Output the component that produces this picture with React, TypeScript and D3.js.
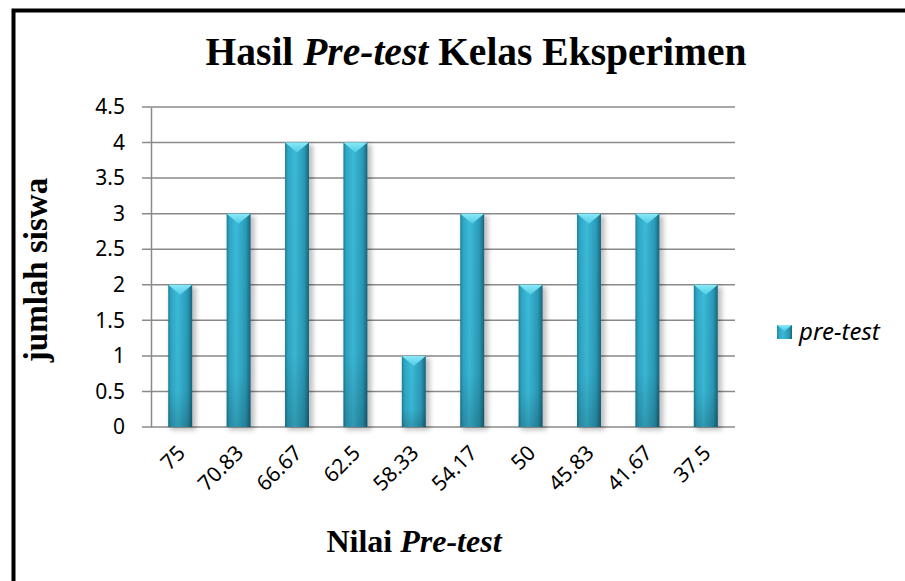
import React, { useEffect, useRef } from "react";
import { select, scaleBand, scaleLinear, axisLeft } from "d3";

const categories = ["75", "70.83", "66.67", "62.5", "58.33", "54.17", "50", "45.83", "41.67", "37.5"];
const preTest = [2, 3, 4, 4, 1, 3, 2, 3, 3, 2];
const yTicks = [0, 0.5, 1, 1.5, 2, 2.5, 3, 3.5, 4, 4.5];
const seriesName = "pre-test";

const svg_width = 905;
const svg_height = 581;
const plot = { left: 151, right: 735, top: 107, bottom: 427 };
const tickFont = "'Noto Sans', 'Open Sans', sans-serif";
const serif = "'Liberation Serif', 'DejaVu Serif', serif";

function App() {
  const ref = useRef<SVGSVGElement>(null);

  useEffect(() => {
    const svg = select(ref.current);
    svg.selectAll("*").remove();

    const defs = svg.append("defs");
    // horizontal shading of the column body
    const body = defs.append("linearGradient").attr("id", "barBody").attr("x1", 0).attr("x2", 1).attr("y1", 0).attr("y2", 0);
    body.append("stop").attr("offset", "0%").attr("stop-color", "#1d7f99");
    body.append("stop").attr("offset", "12%").attr("stop-color", "#2fa6c4");
    body.append("stop").attr("offset", "40%").attr("stop-color", "#3bbad8");
    body.append("stop").attr("offset", "80%").attr("stop-color", "#2a9ab7");
    body.append("stop").attr("offset", "100%").attr("stop-color", "#17657c");
    // darkening towards the base
    const shade = defs.append("linearGradient").attr("id", "barShade").attr("x1", 0).attr("x2", 0).attr("y1", 0).attr("y2", 1);
    shade.append("stop").attr("offset", "0%").attr("stop-color", "#000").attr("stop-opacity", 0);
    shade.append("stop").attr("offset", "75%").attr("stop-color", "#000").attr("stop-opacity", 0.03);
    shade.append("stop").attr("offset", "100%").attr("stop-color", "#000").attr("stop-opacity", 0.18);
    const cap = defs.append("linearGradient").attr("id", "barCap").attr("x1", 0).attr("x2", 0).attr("y1", 0).attr("y2", 1);
    cap.append("stop").attr("offset", "0%").attr("stop-color", "#8ae9f8");
    cap.append("stop").attr("offset", "100%").attr("stop-color", "#4fcbe6");
    const blur = defs.append("filter").attr("id", "shadow").attr("x", "-50%").attr("y", "-10%").attr("width", "200%").attr("height", "130%");
    blur.append("feGaussianBlur").attr("stdDeviation", 2.5);

    // outer frame: only top and left edges are inside the picture
    svg.append("path")
      .attr("d", `M13.5,${svg_height + 5} L13.5,10.5 L${svg_width + 5},10.5`)
      .attr("fill", "none").attr("stroke", "black").attr("stroke-width", 4);

    const xScale = scaleBand<string>()
      .domain(categories)
      .range([plot.left, plot.right])
      .paddingInner(0.59)
      .paddingOuter(0.295);
    const yScale = scaleLinear().domain([0, 4.5]).range([plot.bottom, plot.top]);

    // gridlines
    svg.append("g")
      .selectAll("line")
      .data(yTicks)
      .join("line")
      .attr("x1", plot.left - 9)
      .attr("x2", plot.right)
      .attr("y1", (v) => yScale(v))
      .attr("y2", (v) => yScale(v))
      .attr("stroke", "#8a8a8a")
      .attr("stroke-width", 1.5);

    const yAxis = axisLeft(yScale).tickValues(yTicks).tickSize(0).tickPadding(26).tickFormat((v) => String(v));
    const yg = svg.append("g").attr("transform", `translate(${plot.left},0)`).call(yAxis);
    yg.select(".domain").attr("stroke", "#8a8a8a").attr("stroke-width", 1.5);
    yg.selectAll("text").attr("font-family", tickFont).attr("font-size", 21).attr("fill", "#000");

    // columns
    const bw = xScale.bandwidth();
    const bars = svg.append("g")
      .selectAll("g")
      .data(preTest)
      .join("g")
      .attr("transform", (v, i) => `translate(${xScale(categories[i])},0)`);

    bars.append("rect")
      .attr("x", 2).attr("y", (v) => yScale(v) + 2)
      .attr("width", bw + 2).attr("height", (v) => plot.bottom - yScale(v) + 1)
      .attr("fill", "#000").attr("opacity", 0.25).attr("filter", "url(#shadow)");
    bars.append("rect")
      .attr("y", (v) => yScale(v))
      .attr("width", bw).attr("height", (v) => plot.bottom - yScale(v))
      .attr("fill", "url(#barBody)");
    bars.append("rect")
      .attr("y", (v) => yScale(v))
      .attr("width", bw).attr("height", (v) => plot.bottom - yScale(v))
      .attr("fill", "url(#barShade)");
    bars.append("path")
      .attr("d", (v) => {
        const t = yScale(v);
        return `M0,${t} L${bw},${t} L${bw / 2},${t + 10} Z`;
      })
      .attr("fill", "url(#barCap)");

    // x tick labels
    svg.append("g")
      .selectAll("text")
      .data(categories)
      .join("text")
      .attr("transform", (c) => `translate(${(xScale(c) ?? 0) + bw / 2 + 1},${plot.bottom + 22}) rotate(-45)`)
      .attr("text-anchor", "end")
      .attr("dy", "0.35em")
      .attr("font-family", tickFont)
      .attr("font-size", 21)
      .text((c) => c);

    // title
    const title = svg.append("text")
      .attr("x", 476).attr("y", 65)
      .attr("text-anchor", "middle")
      .attr("font-family", serif).attr("font-weight", "bold").attr("font-size", 39.5);
    title.append("tspan").text("Hasil ");
    title.append("tspan").attr("font-style", "italic").text("Pre-test");
    title.append("tspan").text(" Kelas Eksperimen");

    // axis titles
    svg.append("text")
      .attr("transform", `translate(47,270) rotate(-90)`)
      .attr("text-anchor", "middle")
      .attr("font-family", serif).attr("font-weight", "bold").attr("font-size", 33)
      .text("jumlah siswa");

    const xt = svg.append("text")
      .attr("x", 414).attr("y", 552)
      .attr("text-anchor", "middle")
      .attr("font-family", serif).attr("font-weight", "bold").attr("font-size", 32);
    xt.append("tspan").text("Nilai ");
    xt.append("tspan").attr("font-style", "italic").text("Pre-test");

    // legend
    const lg = svg.append("g").attr("transform", "translate(777,325)");
    lg.append("rect").attr("width", 15).attr("height", 14).attr("fill", "url(#barBody)");
    lg.append("path").attr("d", "M0,0 L15,0 L7.5,6 Z").attr("fill", "url(#barCap)");
    lg.append("text")
      .attr("x", 22).attr("y", 15)
      .attr("font-family", tickFont).attr("font-style", "italic").attr("font-size", 24)
      .text(seriesName);
  }, []);

  return (
    <svg
      ref={ref}
      width={svg_width}
      height={svg_height}
      style={{ position: "absolute", left: 0, top: 0, background: "white" }}
    />
  );
}

export default App;
